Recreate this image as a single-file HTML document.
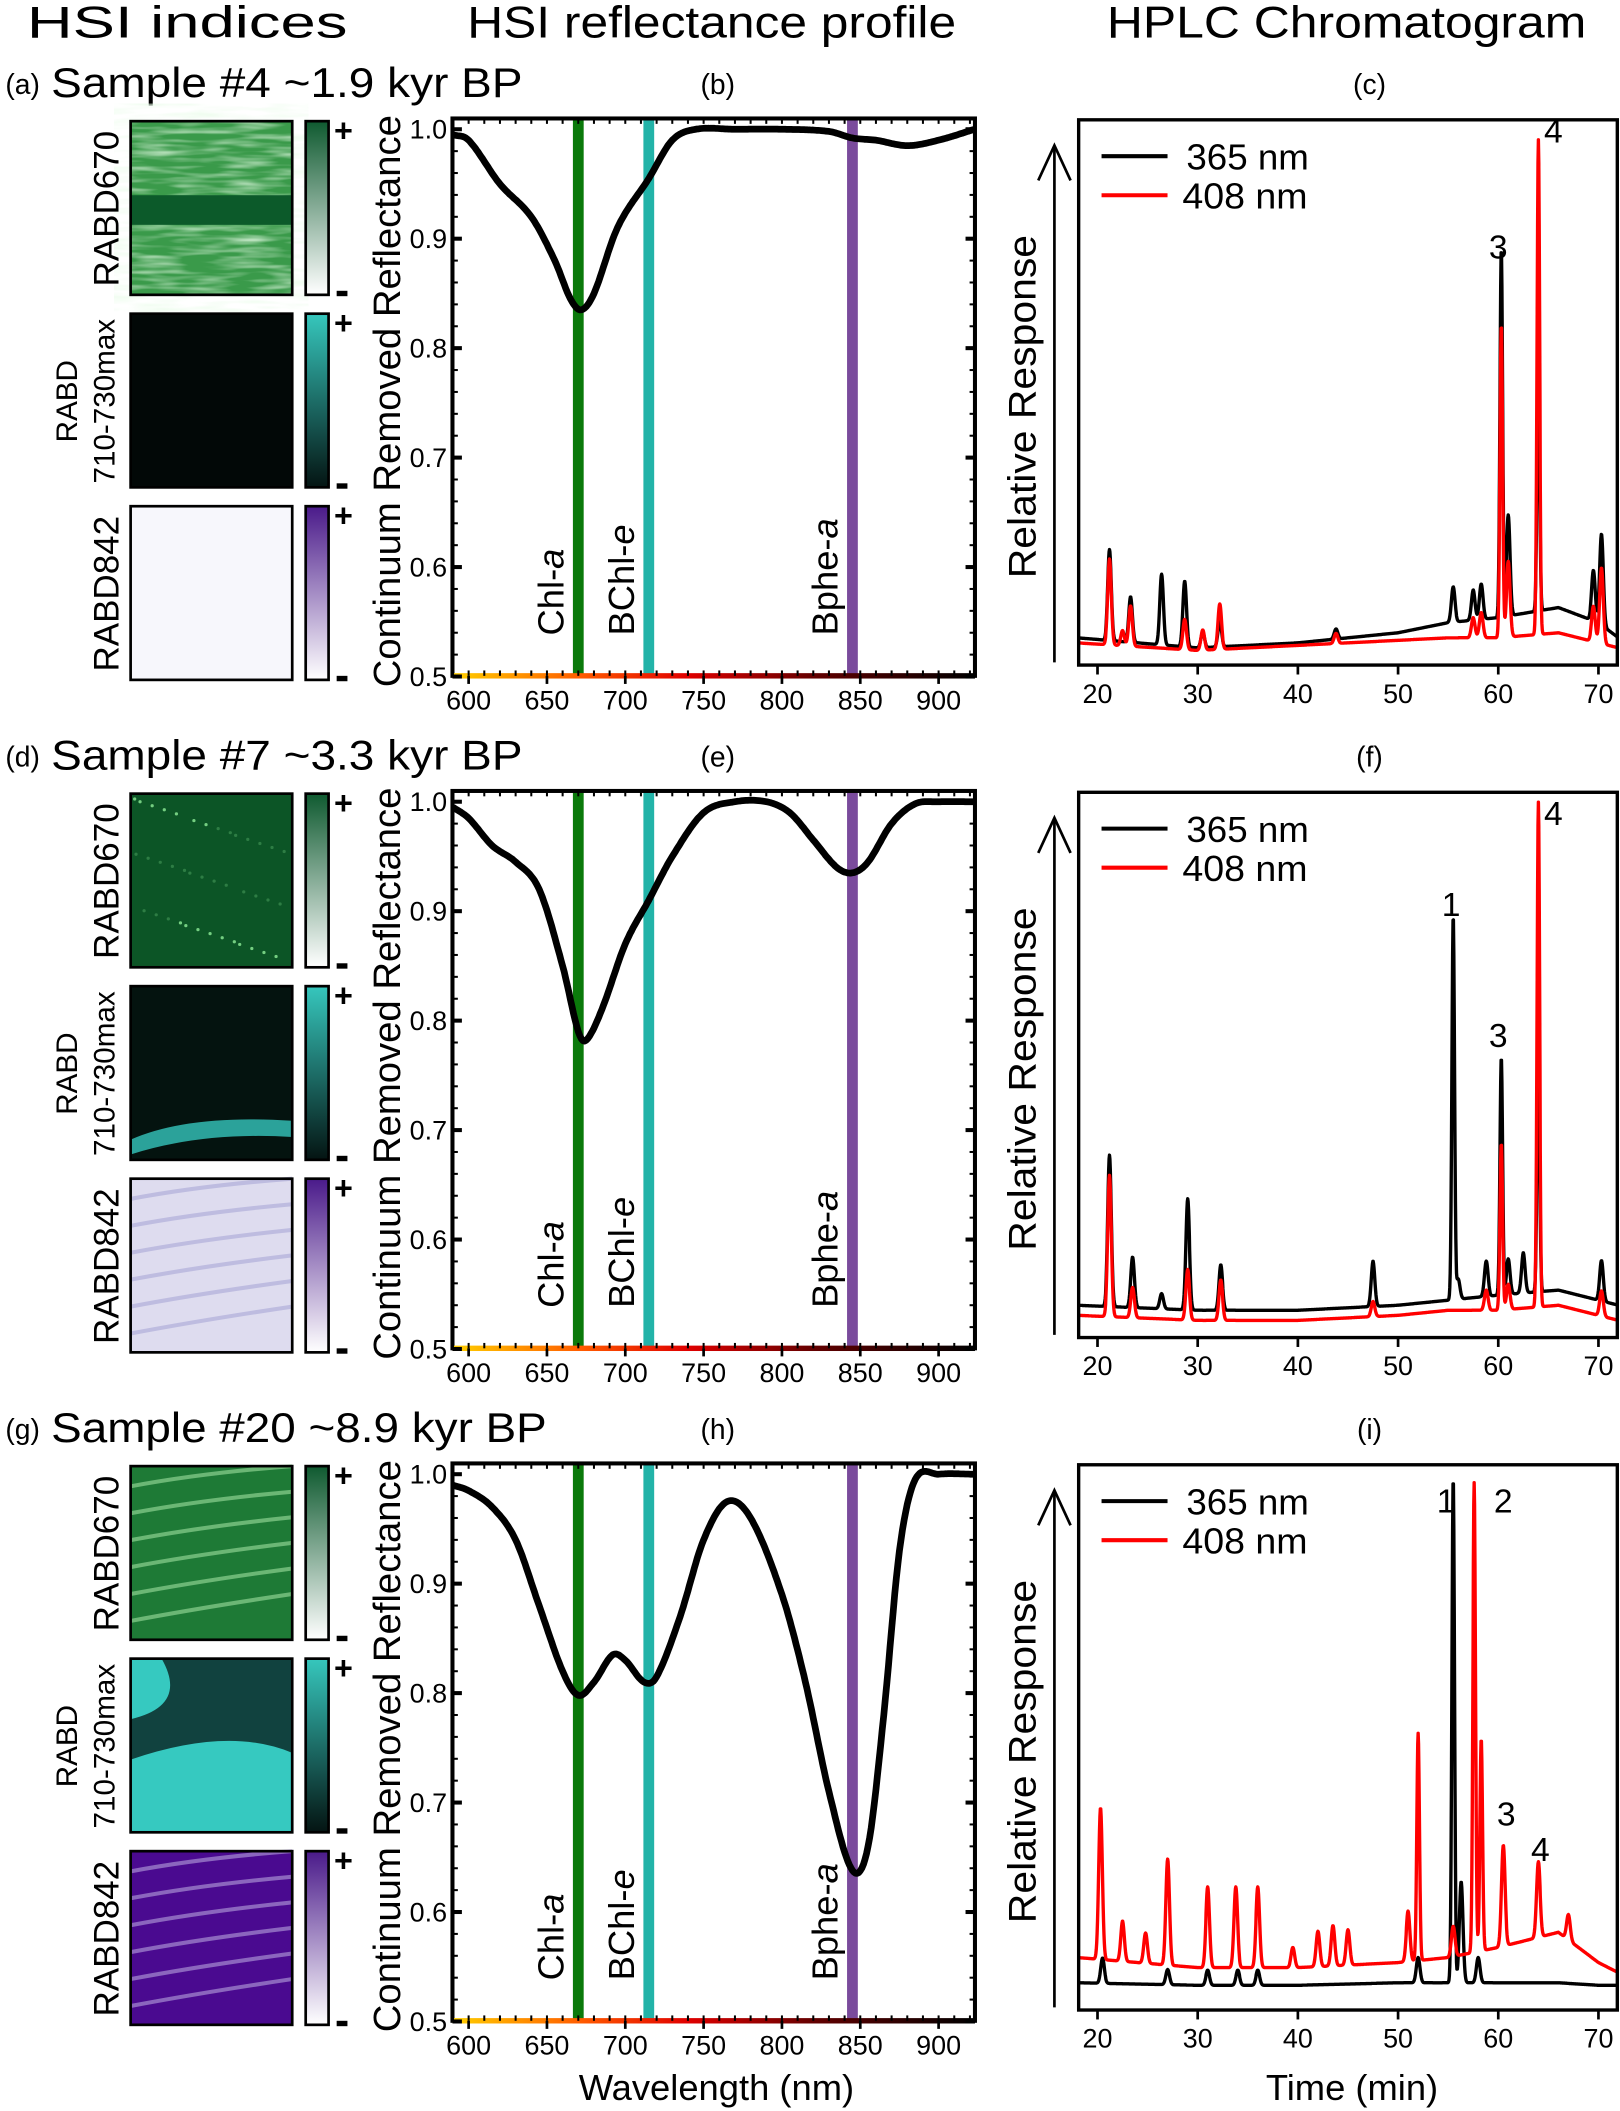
<!DOCTYPE html>
<html><head><meta charset="utf-8"><style>
html,body{margin:0;padding:0;background:#fff}
svg{display:block}
text{font-family:"Liberation Sans",sans-serif;fill:#000}
</style></head><body>
<svg id="fig" width="1620" height="2111" viewBox="0 0 1203 1568" preserveAspectRatio="none" xmlns="http://www.w3.org/2000/svg">
<defs>
<linearGradient id="gGreen" x1="0" y1="0" x2="0" y2="1"><stop offset="0" stop-color="#0f5a30"/><stop offset="1" stop-color="#ffffff"/></linearGradient>
<linearGradient id="gTeal" x1="0" y1="0" x2="0" y2="1"><stop offset="0" stop-color="#36c7bd"/><stop offset="1" stop-color="#041412"/></linearGradient>
<linearGradient id="gPurple" x1="0" y1="0" x2="0" y2="1"><stop offset="0" stop-color="#4a1a8a"/><stop offset="1" stop-color="#ffffff"/></linearGradient>
<linearGradient id="gStripe" x1="0" y1="0" x2="1" y2="0"><stop offset="0" stop-color="#ffd000"/><stop offset="0.25" stop-color="#ff5a00"/><stop offset="0.45" stop-color="#e00000"/><stop offset="0.7" stop-color="#600000"/><stop offset="1" stop-color="#000"/></linearGradient>
<filter id="noise1"><feTurbulence type="fractalNoise" baseFrequency="0.03 0.25" numOctaves="2" seed="3"/><feColorMatrix type="matrix" values="0 0 0 0 0.8  0 0 0 0 0.97  0 0 0 0 0.8  0 0 0 1.4 -0.55"/></filter>
</defs>
<g id="root"></g>
</svg>
<script>
const NS="http://www.w3.org/2000/svg";
const root=document.getElementById('root');
function el(tag,attrs,parent,txt){const e=document.createElementNS(NS,tag);for(const k in attrs)e.setAttribute(k,attrs[k]);if(txt!==undefined)e.textContent=txt;(parent||root).appendChild(e);return e;}

// ---- data ----
const rowOffsets=[0,499.5,999];
const sampleTitles=["Sample #4 ~1.9 kyr BP","Sample #7 ~3.3 kyr BP","Sample #20 ~8.9 kyr BP"];
const panelLetters=[["(a)","(b)","(c)"],["(d)","(e)","(f)"],["(g)","(h)","(i)"]];
const wlTicks=[600,650,700,750,800,850,900];
const reflTicks=[0.5,0.6,0.7,0.8,0.9,1.0];
const pigmentNames=["Chl-","BChl-","Bphe-"];
const pigmentItal=["a","e","a"];
const pigmentWl=[670,715,845];
const pigmentColors=["#0b7a0b","#22b3a8","#7a4b9c"];
const wl1=[590,600,620,640,655,665,672,680,695,715,730,745,770,800,830,845,860,880,900,923];
const rf1=[0.995,0.99,0.95,0.92,0.88,0.845,0.835,0.85,0.91,0.955,0.99,1.0,1.0,1.0,0.998,0.992,0.99,0.985,0.99,1.0];
const wl2=[590,600,615,630,645,660,670,675,685,700,715,730,750,770,790,805,820,835,845,855,870,885,900,923];
const rf2=[0.995,0.985,0.96,0.945,0.92,0.85,0.79,0.782,0.81,0.87,0.91,0.95,0.99,1.0,1.0,0.99,0.965,0.94,0.935,0.945,0.98,0.998,1.0,1.0];
const wl3=[590,600,615,630,645,660,670,680,692,700,712,720,735,750,765,780,800,815,830,845,855,865,875,885,900,923];
const rf3=[0.99,0.985,0.97,0.94,0.88,0.82,0.798,0.81,0.835,0.83,0.81,0.815,0.87,0.94,0.975,0.96,0.89,0.81,0.71,0.638,0.66,0.78,0.93,0.995,1.0,1.0];
const reflWl=[wl1,wl2,wl3];
const reflVals=[rf1,rf2,rf3];
const timeTicks=[20,30,40,50,60,70];
const pkT_k1=[21.2,23.3,26.4,28.7,30.5,32.2,43.8,55.5,57.5,58.3,60.3,61.0,64.0,69.5,70.3];
const pkH_k1=[0.18,0.09,0.14,0.13,0.03,0.05,0.02,0.07,0.06,0.07,0.73,0.2,0.5,0.1,0.18];
const pkT_r1=[21.2,22.5,23.3,28.7,30.5,32.2,43.8,57.5,58.3,60.3,61.0,64.0,69.5,70.3];
const pkH_r1=[0.17,0.03,0.08,0.06,0.04,0.09,0.02,0.04,0.05,0.62,0.15,0.98,0.07,0.15];
const pkT_k2=[21.2,23.5,26.4,29.0,32.3,47.5,55.5,56.0,58.8,60.3,61.0,62.5,64.0,70.3];
const pkH_k2=[0.3,0.1,0.03,0.22,0.09,0.09,0.76,0.04,0.07,0.47,0.07,0.08,0.5,0.08];
const pkT_r2=[21.2,23.5,29.0,32.3,47.5,58.8,60.3,61.0,64.0,70.3];
const pkH_r2=[0.28,0.06,0.1,0.08,0.03,0.04,0.33,0.05,1.0,0.05];
const pkT_k3=[20.5,27.0,31.0,34.0,36.0,52.0,55.5,56.3,58.0];
const pkH_k3=[0.05,0.03,0.03,0.03,0.03,0.05,1.0,0.2,0.05];
const pkT_r3=[20.3,22.5,24.8,27.0,31.0,33.8,36.0,39.5,42.0,43.5,45.0,51.0,52.0,55.5,57.6,58.3,60.5,64.0,67.0];
const pkH_r3=[0.3,0.08,0.06,0.21,0.16,0.16,0.16,0.04,0.07,0.08,0.07,0.1,0.45,0.06,0.93,0.42,0.2,0.15,0.05];
const blT=[18,30,40,50,55,60,66,70,72];
const blK1=[0.03,0.01,0.02,0.04,0.06,0.07,0.09,0.06,0.03];
const blR1=[0.02,0.005,0.015,0.025,0.03,0.03,0.04,0.02,0.01];
const blK2=[0.04,0.03,0.03,0.04,0.05,0.06,0.07,0.05,0.04];
const blR2=[0.02,0.01,0.01,0.02,0.03,0.03,0.04,0.02,0.01];
const blK3=[0.03,0.025,0.025,0.03,0.03,0.03,0.03,0.025,0.025];
const blR3=[0.08,0.06,0.06,0.07,0.08,0.1,0.13,0.07,0.05];
const chromPeaks=[[[pkT_k1,pkH_k1,blK1],[pkT_r1,pkH_r1,blR1]],[[pkT_k2,pkH_k2,blK2],[pkT_r2,pkH_r2,blR2]],[[pkT_k3,pkH_k3,blK3],[pkT_r3,pkH_r3,blR3]]];
const peakLabels=[[["3",60.0,0.76],["4",65.5,0.99]],[["1",55.3,0.79],["3",60.0,0.53],["4",65.5,0.97]],[["1",54.8,0.94],["2",60.5,0.94],["3",60.8,0.32],["4",64.2,0.25]]];

// ---- scales ----
const RX0=336,RX1=724;
function xW(w){return 348+(w-600)*(697-348)/300;}
function yR(r,off){return 96+off+(1.0-r)*(502.5-96)/0.5;}
const CX0=801,CX1=1201;
function xT(t){return 815+(t-20)*(1187-815)/50;}
function yC(v,off){return 485+off-v*375;}

el('text',{x:20,y:28,'font-size':33,textLength:238,lengthAdjust:'spacingAndGlyphs',},root,'HSI indices');
el('text',{x:347,y:28,'font-size':33,textLength:363,lengthAdjust:'spacingAndGlyphs',},root,'HSI reflectance profile');
el('text',{x:822,y:28,'font-size':33,textLength:356,lengthAdjust:'spacingAndGlyphs',},root,'HPLC Chromatogram');

function spline(xs,ys,x){
  const n=xs.length;
  let i=0;while(i<n-2&&x>xs[i+1])i++;
  const x0=xs[i],x1=xs[i+1],h=x1-x0,t=Math.min(1,Math.max(0,(x-x0)/h));
  const m=k=>{if(k<=0)return (ys[1]-ys[0])/(xs[1]-xs[0]);if(k>=n-1)return (ys[n-1]-ys[n-2])/(xs[n-1]-xs[n-2]);return (ys[k+1]-ys[k-1])/(xs[k+1]-xs[k-1]);};
  const m0=m(i)*h,m1=m(i+1)*h,t2=t*t,t3=t2*t;
  return (2*t3-3*t2+1)*ys[i]+(t3-2*t2+t)*m0+(-2*t3+3*t2)*ys[i+1]+(t3-t2)*m1;
}
function lin(xs,ys,x){for(let i=0;i<xs.length-1;i++){if(x<=xs[i+1]){const t=(x-xs[i])/(xs[i+1]-xs[i]);return ys[i]+(ys[i+1]-ys[i])*t;}}return ys[ys.length-1];}

const tileColors=[
 [{bg:'#3a9a4a',noise:true},{bg:'#020807'},{bg:'#f7f7fc'}],
 [{bg:'#0c5526',speck:'#7fdc8c'},{bg:'#04130f',band:'#36c7bd'},{bg:'#dedcef',streak:'#a9a6d6'}],
 [{bg:'#1e7a36',streak:'#9ee0a0'},{bg:'#36c9c0',dark:'#0a2a28'},{bg:'#4a0a90',streak:'#b7a4dd'}]];
const cbGrad=['url(#gGreen)','url(#gTeal)','url(#gPurple)'];
const tileY=[90,233,376];

rowOffsets.forEach((off,r)=>{
  const g=el('g',{});
  el('text',{x:4,y:70+off,'font-size':21,},g,panelLetters[r][0]);
  el('text',{x:38,y:72+off,'font-size':31,textLength:(r===2?368:350),lengthAdjust:'spacingAndGlyphs',},g,sampleTitles[r]);
  el('text',{x:533,y:70+off,'font-size':21,'text-anchor':'middle',},g,panelLetters[r][1]);
  el('text',{x:1017,y:70+off,'font-size':21,'text-anchor':'middle',},g,panelLetters[r][2]);
  tileY.forEach((ty,k)=>{
    const y=ty+off, c=tileColors[r][k];
    const tg=el('g',{},g);
    el('rect',{x:97,y:y,width:120,height:129,fill:c.bg},tg);
    if(c.noise){el('rect',{x:97,y:y,width:120,height:129,filter:'url(#noise1)'},tg);el('rect',{x:97,y:y+55,width:120,height:22,fill:'#0c5a2a'},tg);}
    if(c.speck){for(let i=0;i<40;i++){const sx=100+((i*37)%114),sy=y+4+((i*53)%120);el('circle',{cx:sx,cy:sy,r:1.2,fill:c.speck,opacity:(sy-y<25||sy-y>95)?0.9:0.3},tg);}}
    if(c.band){el('path',{d:`M97 ${y+114} Q140 ${y+95} 217 ${y+100} L217 ${y+112} Q150 ${y+108} 97 ${y+125}Z`,fill:c.band,opacity:0.8},tg);}
    if(c.streak){for(let i=0;i<6;i++){el('path',{d:`M97 ${y+15+i*20} Q150 ${y+5+i*20} 217 ${y+i*19}`,stroke:c.streak,'stroke-width':3,fill:'none',opacity:0.6},tg);}}
    if(c.dark){el('path',{d:`M120 ${y} L217 ${y} L217 ${y+70} Q170 ${y+50} 97 ${y+75} L97 ${y+45} Q140 ${y+35} 120 ${y}Z`,fill:c.dark,opacity:0.85},tg);}
    el('rect',{x:97,y:y,width:120,height:129,fill:'none',stroke:'#000','stroke-width':2},tg);
    el('rect',{x:227,y:y,width:17,height:129,fill:cbGrad[k],stroke:'#000','stroke-width':2,},g);
    el('text',{x:255,y:y+15,'font-size':24,'font-weight':'bold','text-anchor':'middle',},g,'+');
    el('rect',{x:250,y:y+126,width:8,height:4,fill:'#000',},g);
  });
  el('text',{transform:`translate(88,${155+off}) rotate(-90)`,'font-size':26,'text-anchor':'middle',},g,'RABD670');
  el('text',{transform:`translate(57,${298+off}) rotate(-90)`,'font-size':22,'text-anchor':'middle',},g,'RABD');
  el('text',{transform:`translate(85,${298+off}) rotate(-90)`,'font-size':22,'text-anchor':'middle',},g,'710-730max');
  el('text',{transform:`translate(88,${441+off}) rotate(-90)`,'font-size':26,'text-anchor':'middle',},g,'RABD842');

  const pg=el('g',{},g);
  const top=88+off,bot=502+off;
  pigmentWl.forEach((w,i)=>{
    el('rect',{x:xW(w)-4,y:top,width:8,height:bot-top,fill:pigmentColors[i],},pg);
    const t=el('text',{transform:`translate(${xW(w)-11},${472+off}) rotate(-90)`,'font-size':27,},pg);
    el('tspan',{},t,pigmentNames[i]);el('tspan',{'font-style':'italic'},t,pigmentItal[i]);
  });
  let d='';const ws=reflWl[r],vs=reflVals[r];
  for(let w=590;w<=923;w+=1){const x=xW(w),y=yR(spline(ws,vs,w),off);d+=(w===590?'M':'L')+x.toFixed(1)+' '+y.toFixed(1);}
  el('clipPath',{id:'clipR'+r},pg);
  el('rect',{x:RX0,y:top,width:RX1-RX0,height:bot-top},document.getElementById('clipR'+r));
  el('path',{d:d,fill:'none',stroke:'#000','stroke-width':5,'stroke-linejoin':'round','clip-path':`url(#clipR${r})`,},pg);
  el('rect',{x:RX0,y:top,width:RX1-RX0,height:bot-top,fill:'none',stroke:'#000','stroke-width':3},pg);
  el('rect',{x:RX0,y:bot-2,width:RX1-RX0,height:4,fill:'url(#gStripe)',},pg);
  for(let w=590;w<=920;w+=10){el('line',{x1:xW(w),x2:xW(w),y1:top,y2:top+4,stroke:'#000','stroke-width':1.5},pg);el('line',{x1:xW(w),x2:xW(w),y1:bot,y2:bot-4,stroke:'#000','stroke-width':1.5},pg);}
  for(let v=0.5;v<=1.0;v+=0.02){el('line',{x1:RX0,x2:RX0+4,y1:yR(v,off),y2:yR(v,off),stroke:'#000','stroke-width':1.5},pg);el('line',{x1:RX1,x2:RX1-4,y1:yR(v,off),y2:yR(v,off),stroke:'#000','stroke-width':1.5},pg);}
  wlTicks.forEach(w=>{el('line',{x1:xW(w),x2:xW(w),y1:bot,y2:bot+6,stroke:'#000','stroke-width':2},pg);el('text',{x:xW(w),y:bot+25,'font-size':20,'text-anchor':'middle',},pg,String(w));});
  reflTicks.forEach(v=>{el('line',{x1:RX0,x2:RX0+7,y1:yR(v,off),y2:yR(v,off),stroke:'#000','stroke-width':3},pg);el('line',{x1:RX1,x2:RX1-7,y1:yR(v,off),y2:yR(v,off),stroke:'#000','stroke-width':3},pg);el('text',{x:RX0-4,y:yR(v,off)+7,'font-size':20,'text-anchor':'end',},pg,v.toFixed(1));});
  el('text',{transform:`translate(297,${298+off}) rotate(-90)`,'font-size':28,'text-anchor':'middle',textLength:425,lengthAdjust:'spacingAndGlyphs',},pg,'Continuum Removed Reflectance');

  const cg=el('g',{},g);
  const ctop=89+off,cbot=494+off;
  el('clipPath',{id:'clipC'+r},cg);
  el('rect',{x:CX0,y:ctop,width:CX1-CX0,height:cbot-ctop},document.getElementById('clipC'+r));
  const cols=['#000','#ff0000'];
  chromPeaks[r].forEach((s,si)=>{
    const [pt,ph,bl]=s;let dd='';
    for(let t=18;t<=72.01;t+=0.04){let v=lin(blT,bl,t);for(let i=0;i<pt.length;i++){const w=ph[i]>0.3?0.13:0.18;v+=ph[i]*Math.exp(-Math.pow(t-pt[i],2)/(2*w*w));}
      dd+=(t===18?'M':'L')+xT(t).toFixed(1)+' '+yC(v,off).toFixed(1);}
    const p=el('path',{d:dd,fill:'none',stroke:cols[si],'stroke-width':2.5,'stroke-linejoin':'round','clip-path':`url(#clipC${r})`},cg);
    
    
  });
  el('rect',{x:CX0,y:ctop,width:CX1-CX0,height:cbot-ctop,fill:'none',stroke:'#000','stroke-width':2.5},cg);
  timeTicks.forEach(t=>{el('line',{x1:xT(t),x2:xT(t),y1:cbot,y2:cbot+7,stroke:'#000','stroke-width':2},cg);el('text',{x:xT(t),y:cbot+28,'font-size':20,'text-anchor':'middle',},cg,String(t));});
  peakLabels[r].forEach(l=>{el('text',{x:xT(l[1]),y:yC(l[2],off)-8,'font-size':25,'text-anchor':'middle',},cg,l[0]);});
  el('line',{x1:783,x2:783,y1:492+off,y2:110+off,stroke:'#000','stroke-width':2},cg);
  el('path',{d:`M771 ${134+off} L783 ${108+off} L795 ${134+off}`,fill:'none',stroke:'#000','stroke-width':2,},cg);
  el('text',{transform:`translate(769,${302+off}) rotate(-90)`,'font-size':29,'text-anchor':'middle',textLength:255,lengthAdjust:'spacingAndGlyphs',},cg,'Relative Response');
  el('line',{x1:818,x2:867,y1:116+off,y2:116+off,stroke:'#000','stroke-width':3,},cg);
  el('text',{x:881,y:126+off,'font-size':27,textLength:91,lengthAdjust:'spacingAndGlyphs',},cg,'365 nm');
  el('line',{x1:818,x2:867,y1:145+off,y2:145+off,stroke:'#ff0000','stroke-width':3,},cg);
  el('text',{x:878,y:155+off,'font-size':27,textLength:93,lengthAdjust:'spacingAndGlyphs',},cg,'408 nm');
});
el('text',{x:532,y:1560,'font-size':27,'text-anchor':'middle',},root,'Wavelength (nm)');
el('text',{x:1004,y:1560,'font-size':27,'text-anchor':'middle',},root,'Time (min)');
</script>
</body></html>
